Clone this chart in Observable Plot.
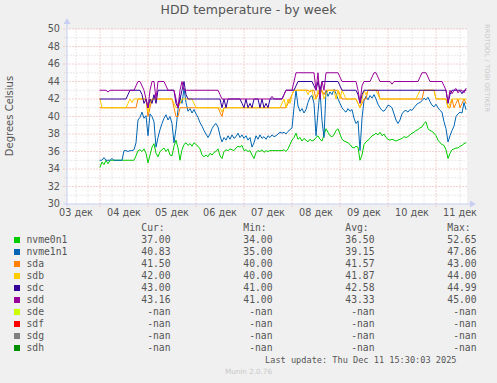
<!DOCTYPE html>
<html>
<head>
<meta charset="utf-8">
<script src="https://cdn.jsdelivr.net/npm/d3@7"></script>
<script src="https://cdn.jsdelivr.net/npm/@observablehq/plot@0.6"></script>
<style>
  html, body { margin: 0; padding: 0; background: #f0f0f0; }
  #page { position: relative; width: 497px; height: 383px; overflow: hidden; background: #f0f0f0; }
  #title { position: absolute; left: 0; top: 2px; width: 497px; text-align: center; font-family: "DejaVu Sans"; font-size: 12.5px; line-height: 16px; color: #555; }
  #chart { position: absolute; left: 0; top: 0; }
  #ylabel { position: absolute; left: -40px; top: 109px; width: 100px; text-align: center; transform: rotate(-90deg); font-family: "DejaVu Sans"; font-size: 10px; line-height: 14px; color: #555; }
  #rrd { position: absolute; left: 483px; top: 24px; writing-mode: vertical-rl; font-family: "DejaVu Sans"; font-size: 6.5px; color: #c8c8c8; letter-spacing: 0.2px; }
  .lg { position: absolute; font-family: "DejaVu Sans Mono"; font-size: 9.7px; line-height: 12px; color: #555; white-space: pre; }
  .sw { position: absolute; width: 6px; height: 6px; }
  #update { position: absolute; right: 40.5px; top: 354px; font-family: "DejaVu Sans Mono"; font-size: 8.6px; line-height: 12px; color: #555; white-space: pre; }
  #munin { position: absolute; left: 0; width: 497px; top: 367px; text-align: center; font-family: "DejaVu Sans"; font-size: 7.2px; line-height: 10px; color: #c8c8c8; }
</style>
</head>
<body>
<div id="page">
  <div id="chart"></div>
  <div id="title"></div>
  <div id="ylabel"></div>
  <div id="rrd"></div>
  <div id="legend"></div>
  <div id="update"></div>
  <div id="munin"></div>
</div>
<script>
// ---- text ----
const titleText = "HDD temperature - by week";
const yLabelText = "Degrees Celsius";
const rrdText = "RRDTOOL / TOBI OETIKER";
const updateText = "Last update: Thu Dec 11 15:30:03 2025";
const muninText = "Munin 2.0.76";
const dayLabels = ["03 дек","04 дек","05 дек","06 дек","07 дек","08 дек","09 дек","10 дек","11 дек"];
const yTicks = [30,32,34,36,38,40,42,44,46,48,50];

// ---- legend ----
const names  = ["nvme0n1","nvme1n1","sda","sdb","sdc","sdd","sde","sdf","sdg","sdh"];
const colors = ["#00cc00","#0066b3","#ff8000","#ffcc00","#330099","#990099","#ccff00","#ff0000","#808080","#008f00"];
const curVals = ["37.00","40.83","41.50","42.00","43.00","43.16","-nan","-nan","-nan","-nan"];
const minVals = ["34.00","35.00","40.00","40.00","41.00","41.00","-nan","-nan","-nan","-nan"];
const avgVals = ["36.50","39.15","41.57","41.87","42.58","43.33","-nan","-nan","-nan","-nan"];
const maxVals = ["52.65","47.86","43.00","44.00","44.99","45.00","-nan","-nan","-nan","-nan"];
const colHeads = ["Cur:","Min:","Avg:","Max:"];

// ---- series (hourly samples from 04 Dec 00:00 UTC) ----
const nvme0n1 = [
34.2,34.8,34.5,35,34.6,35,35,35,35,35,
35,35,35,35,35,35,35,35,35.5,36.1,
36.2,36.0,36.3,35.8,34.7,35.6,36.5,36.9,35.8,35.4,
36.0,36.2,36.4,36.0,36.3,35.6,35.5,36.6,37.3,36.4,
35.0,36.2,36.8,37.0,36.7,36.9,36.6,37.0,36.8,36.6,
36.3,35.6,35.4,35.6,35.4,35.8,35.6,35.9,36.0,36.3,
35.5,35.2,36.0,36.2,36.1,36.3,36.2,36.1,36.4,36.6,
36.5,36.7,36.1,36.2,36.0,36.1,35.6,35.2,35.9,36.1,
36.0,36.2,35.9,36.1,36.0,36.1,36.1,36.1,36.1,36.1,
36.1,36.1,36.2,36.0,36.3,36.8,37.3,37.6,38.1,37.4,
37.6,37.2,37.5,37.3,37.1,37.4,37.2,37.3,37.6,37.8,
37.4,37.2,37.9,38.6,38.2,37.8,37.7,37.9,38.4,38.6,
38.0,37.4,37.2,37.1,37.0,36.8,36.5,36.4,36.6,36.5,
35.0,35.6,36.8,37.1,37.3,37.5,37.8,37.9,38.1,37.9,
38.2,37.8,38.0,37.6,37.4,37.3,37.4,37.3,37.2,37.3,
37.4,37.5,37.7,37.6,37.7,37.9,38.1,38.2,38.4,38.5,
38.7,38.8,39.2,39.4,38.6,38.4,38.3,38.1,37.8,37.3,
37.0,36.8,36.7,36.2,35.2,35.8,36.2,36.3,36.4,36.4,
36.6,36.7,36.9,37.0];
const nvme1n1 = [
35,35,35.3,35,35,35,35.2,35,35,35,
35,35,36.1,36.1,36.0,36.1,36.1,36.2,37.0,39.6,
39.9,40.5,39.8,40.1,37.8,40.3,40.0,39.4,36.5,37.6,
38.5,39.2,39.8,40.2,39.6,40.0,39.2,37.0,38.6,40.8,
42.2,41.5,43.2,41.6,40.6,40.9,40.4,40.8,40.3,39.9,
39.3,38.9,38.4,38.0,37.6,38.0,38.6,39.0,39.2,38.8,
37.8,37.1,37.6,37.3,37.8,37.4,37.9,37.5,37.7,38.1,
37.6,37.9,37.5,37.8,37.3,37.6,36.5,37.0,37.8,37.4,
37.9,37.5,37.7,37.4,37.8,37.6,37.9,37.7,37.8,38.0,
38.2,38.1,38.2,38.0,38.3,38.5,38.7,41.0,43.0,41.2,
40.6,40.9,40.4,40.8,41.6,42.2,42.4,41.5,37.8,40.5,
43.0,39.5,37.6,43.0,42.3,42.8,42.5,43.1,42.6,42.0,
41.5,41.0,40.7,40.5,40.9,40.6,40.8,39.8,39.2,39.5,
36.1,39.8,41.8,42.3,41.9,42.4,42.1,42.5,42.0,41.4,
41.0,40.7,40.6,40.9,41.3,41.2,41.0,40.3,39.6,39.2,
39.6,40.3,40.6,40.7,40.5,40.8,40.7,41.0,41.3,41.5,
41.6,41.8,42.1,41.9,42.2,41.7,41.3,41.1,41.4,41.0,
40.7,40.5,39.4,38.6,37.1,37.8,38.4,38.9,40.0,40.3,
40.5,40.4,41.6,40.8];
const sda = [
41,41,41,41,41,41,41,41,41,41,
41,41,41,41,41,41,41,41,41,42,
42,42,42,42,40,41,42,42,42,42,
42,42,42,42,42,42,42,41,40,40,
41,41,41,41,41,41,41,41,41,41,
41,41,41,41,41,41,41,41,41,41,
40.5,40,41,41,41,41,41,41,41,41,
41,41,41,41,41,41,41,41,41,41,
41,41,41,41,41,41,41,41,41,41,
41,41,41,41,41.5,42,42.5,43,43,43,
43,43,43,43,43,42.8,43,43,42,42.5,
43,43,42.5,43,43,43,43,43,43,43,
42.5,42,42,42,42,42,42,42,42,41.5,
41,41.5,42,42,43,43,43,43,43,43,
42,42,42,42,42,42,42,42,42,42,
42,42,42,42,42,42,42,42,42,42,
42,42,43,43,43,43,43,43,42,42,
42,42,42,42,41,41,42,41,41.5,42,
41,41.5,42,41.5];
const sdb = [
42,41,41,41,41,41,41,41,41,41,
41,41,41,41,41.5,42,41.6,42,42,42,
42,42,42,42,40.5,41.5,42,42,42,42,
42,42,42,42,42,42,42,41.5,41,41,
41.5,42,42,42,42,42,42,41.5,41,41,
41,41,41,41,41,41,41,41,41,41,
41,40.5,41,41,41,41,41,41,41,41,
41,41,41,41,41,41,41,41,41,41,
41,41,41,41,41,41,41,41,41,41,
41,41.5,42,41,42,41.5,42.5,43,43,43,
43,43,43,43,42.5,43,43,42,42,43,
42.5,43,42,42.5,43,43,43,43,42,43,
42,43,42.5,42,42,42,42,42,42,41.5,
41,42,43,42.5,43,43,43,43,43,42.5,
42,42,42,42,42,42,42,42,42,42,
42,42,42,42,42,42,42,42,42,42.5,
43,43,43,43,43,43,43,43,42,42,
42,42,42,42,41,41.5,42,42,42,42,
42,42,42,42];
const sdc = [
42,42,42,42,42,42,42,42,42,42,
42,42,42,42,42.5,43,43,43,43,43,
43,42.5,41.5,42,41,42,41.5,42.5,41.5,43,
43,43,43,43,43,43,43,43,41.5,41,
42,43,44,42.5,42,42,42,42,42,42,
42,42,42,42,42,42,42,42,42,42,
42,41,42,41,42,42,42,42,42,42,
42,41.5,41,42,41,41.5,41,42,42,42,
41,42,41,41.5,41,42,42,42,42,42,
42,42,42.5,43,43,43,43,43,43.5,44,
44,44,44,44,44,44,44,43.5,43,44,
43,44,44,44,44,44,44,44,44,44,
43.5,43,43,43,43,43,43,43,43,42.5,
41.5,42.5,43,43,43,43,43,43,43,43,
43,43,43,43,43,43,43,43,43,43,
43,43,43,43,43,43,43,43,43,43,
43,43,43,43,43,43,43,43,43,43,
43,43,43,43,41.5,42.5,43,43,43,43,
43,42.6,43,43];
const sdd = [
43,43,43,43,42.8,43,43,43,43,43,
43,43,43,43,43,43,43,43,43.5,44,
44,43.5,43,42,41,43,44,44,42,44,
44,44,44,43.5,43,43,43,43,42,41,
43,44,43,43,43,43,43,43,43,43,
43,43,43,43,43,43,43,43,43,43,
42.5,42,42,42,42,42,42,42,42,42,
42,42,42,42,42,42,42,42,42,42,
42,42,42,42,42,42,42.3,42,42,42,
42,42,42.5,43,43,43,43,44,45,45,
45,45,45,45,45,45,45,45,43,45,
42,44,43,45,45,45,45,45,45,45,
44.5,44,44,44,44,44,44,44,44,43,
41.6,43.5,44,44,44,44,44.5,45,45,44.5,
44,44,44,44,44,44,43.7,44,44,44,
44,44,44,44,44,44,44,44,44,44,
44.5,45,45,45,44.5,44,44,44,44,44,
44,44,43.5,43,41.6,43,42.6,43,43.2,42.7,
43,43,42.7,43.2];
const seriesList = [nvme0n1, nvme1n1, sda, sdb, sdc, sdd];

// ---- time frame ----
const start = new Date(Date.UTC(2025, 11, 3, 7, 30));
const end = new Date(Date.UTC(2025, 11, 11, 15, 30));
const dataStart = Date.UTC(2025, 11, 4, 0, 0);
const timeOf = i => new Date(dataStart + i * 3600000);

const noonTicks = d3.utcDay.range(start, end).map(d => d3.utcHour.offset(d, 12));
noonTicks.unshift(new Date(Date.UTC(2025, 11, 3, 12)));
const majorX = d3.utcDay.range(start, end);
const minorX = d3.utcHour.every(6).range(start, end).filter(d => d.getUTCHours() !== 0);
const majorY = yTicks.filter(v => v > 30);
const minorY = d3.range(31, 50, 2);

const gridC = "#d2d2d2";
const mgridC = "#eaa4a4";
const axisC = "#c8cff2";
const dash = "1,2";

const lineMarks = seriesList.map((s, k) =>
  Plot.line(s, {x: (d, i) => timeOf(i), y: d => d, stroke: colors[k], strokeWidth: 1})
);

const chart = Plot.plot({
  width: 497,
  height: 222,
  marginLeft: 66.5,
  marginRight: 30.5,
  marginTop: 28.5,
  marginBottom: 18.5,
  style: {background: "none", fontFamily: "DejaVu Sans", fontSize: "9.7px", color: "#555", overflow: "visible"},
  x: {
    type: "utc", domain: [start, end], ticks: noonTicks,
    tickFormat: d => dayLabels[d.getUTCDate() - 3],
    tickSize: 0, tickPadding: 5.5, label: null
  },
  y: {domain: [30, 50], ticks: yTicks, tickSize: 0, tickPadding: 7, label: null},
  marks: [
    Plot.frame({fill: "white", stroke: "none"}),
    Plot.ruleX(minorX, {stroke: gridC, strokeDasharray: dash, insetBottom: -2}),
    Plot.ruleY(minorY, {stroke: gridC, strokeDasharray: dash, insetLeft: -2}),
    Plot.ruleX(majorX, {stroke: mgridC, strokeDasharray: dash, insetBottom: -3}),
    Plot.ruleY(majorY, {stroke: mgridC, strokeDasharray: dash, insetLeft: -3}),
    ...lineMarks,
    Plot.ruleY([30], {stroke: axisC, insetLeft: -3, insetRight: -4}),
    Plot.ruleX([start], {stroke: axisC, insetTop: -6, insetBottom: -3}),
    Plot.dot([end], {x: d => d, y: () => 30, symbol: "triangle", r: 2.6, rotate: 90, dx: 5, fill: axisC, stroke: "none"}),
    Plot.dot([start], {x: d => d, y: () => 50, symbol: "triangle", r: 2.6, dy: -7, fill: axisC, stroke: "none"})
  ]
});
document.getElementById("chart").append(chart);

document.getElementById("title").textContent = titleText;
document.getElementById("ylabel").textContent = yLabelText;
document.getElementById("rrd").textContent = rrdText;
document.getElementById("update").textContent = updateText;
document.getElementById("munin").textContent = muninText;

// ---- legend layout ----
const legend = document.getElementById("legend");
const rowTop = 222, rowH = 12;
const colRight = [170.5, 272.5, 374.5, 476.5];
function addText(txt, left, top, right) {
  const el = document.createElement("div");
  el.className = "lg";
  el.textContent = txt;
  el.style.top = top + "px";
  if (right != null) { el.style.right = (497 - right) + "px"; } else { el.style.left = left + "px"; }
  legend.append(el);
}
const colVals = [curVals, minVals, avgVals, maxVals];
colHeads.forEach((h, c) => addText(h, colRight[c] - 29.2, rowTop));
names.forEach((n, r) => {
  const top = rowTop + rowH * (r + 1);
  const sw = document.createElement("div");
  sw.className = "sw";
  sw.style.left = "14px";
  sw.style.top = (top + 3) + "px";
  sw.style.background = colors[r];
  legend.append(sw);
  addText(n, 26.5, top);
  colVals.forEach((vals, c) => addText(vals[r], null, top, colRight[c]));
});
</script>
</body>
</html>
